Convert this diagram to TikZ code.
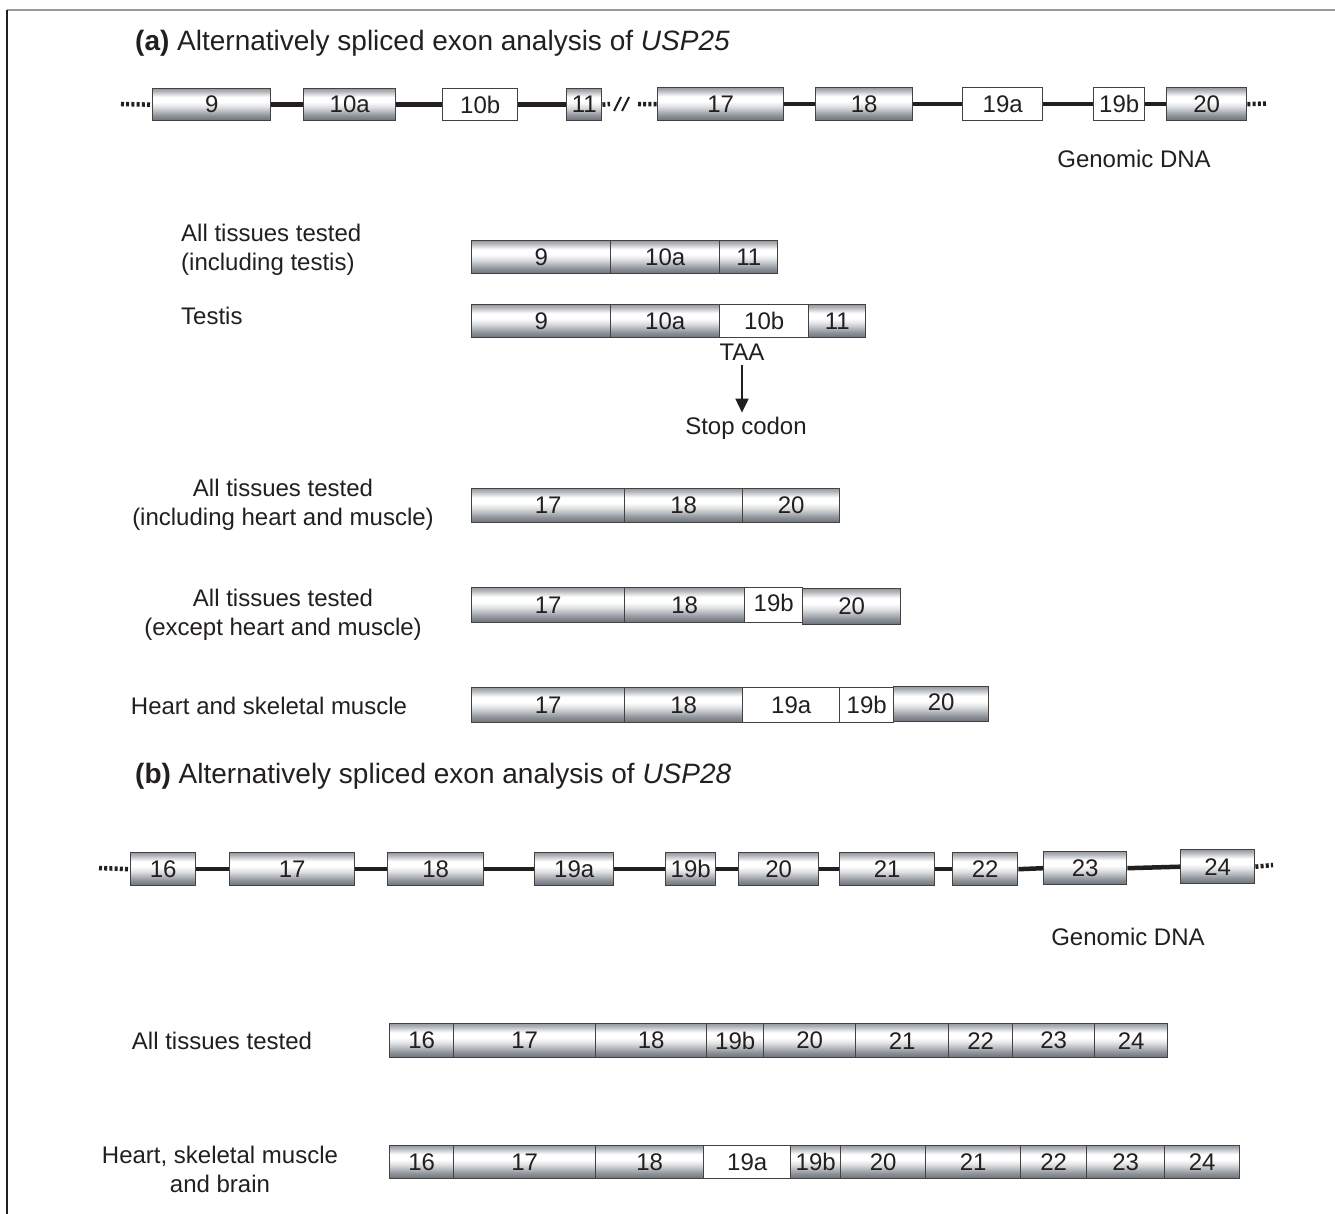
\documentclass[tikz,border=0pt]{standalone}
\usepackage{fontspec}
\setmainfont{Liberation Sans}
\usetikzlibrary{arrows.meta}
\definecolor{ink}{HTML}{231F20}
\definecolor{exbot}{HTML}{6A7078}
\definecolor{exlow}{HTML}{8E939A}
\definecolor{exmid}{HTML}{DCDEE1}
\definecolor{exhi}{HTML}{B2B6BB}
\definecolor{extop}{HTML}{979BA1}
\pgfdeclareverticalshading{exonsh}{100bp}{color(0bp)=(exbot); color(25bp)=(exbot); color(33bp)=(exlow); color(46bp)=(exmid); color(54bp)=(white); color(62bp)=(white); color(71bp)=(exhi); color(75bp)=(extop); color(100bp)=(extop)}
\newcommand{\exonbox}[7]{%
  \node[#1,anchor=north west,minimum width={(#4-#3)*1pt},minimum height={(#6-#5)*1pt}] (#2) at (#3,#5) {#7};}
\begin{document}
\begin{tikzpicture}[x=1pt,y=-1pt,
  every node/.style={text=ink,font=\fontsize{24}{29}\selectfont},
  exon/.style={draw=ink!85,line width=1.4pt,shading=exonsh,inner sep=0pt},
  wexon/.style={draw=ink!85,line width=1.4pt,fill=white,inner sep=0pt},
  intron/.style={draw=ink,line width=4.5pt},
  dotline/.style={draw=ink,line width=4.5pt,dash pattern=on 3pt off 2.2pt},
  titletext/.style={font=\fontsize{28}{32}\selectfont,anchor=west,inner sep=0pt},
  lbl/.style={align=center,inner sep=0pt},
  lbll/.style={align=left,anchor=west,inner sep=0pt}]
\useasboundingbox (0,0) rectangle (1335,1214);
\fill[white] (0,0) rectangle (1335,1214);
% frame
\draw[line width=1.5pt,draw=gray!80] (7,10) -- (1335,10);
\draw[line width=1.5pt,draw=ink] (7,10) -- (7,1214);

% ---------- (a) ----------
\node[titletext] (ta) at (135,43) {\textbf{(a)} Alternatively spliced exon analysis of \textit{USP25}};

\exonbox{exon}{a9}{152}{270}{88}{120}{9}
\exonbox{exon}{a10a}{303}{395}{88}{120}{10a}
\exonbox{wexon}{a10b}{442}{517}{88}{120}{10b}
\exonbox{exon}{a11}{566}{601}{88}{120}{\raisebox{-2pt}{11}}
\exonbox{exon}{a17}{657}{783}{87}{120}{17}
\exonbox{exon}{a18}{815}{912}{87}{120}{18}
\exonbox{wexon}{a19a}{962}{1042}{87}{120}{19a}
\exonbox{wexon}{a19b}{1093}{1144}{87}{120}{19b}
\exonbox{exon}{a20}{1166}{1246}{87}{120}{20}
\coordinate (aL) at (121,104);
\coordinate (aR) at (1266,103.5);
\draw[dotline] (aL) -- (a9.west);
\draw[intron] (a9.east) -- (a10a.west);
\draw[intron] (a10a.east) -- (a10b.west);
\draw[intron] (a10b.east) -- (a11.west);
\coordinate (brk1) at (610,104);
\coordinate (brk2) at (638,104);
\draw[dotline] (a11.east) -- (brk1);
\draw[dotline] (brk2) -- (a17.west);
\draw[ink,line width=2pt] (614,111) -- (621,97) (622,111) -- (629,97);
\draw[intron] (a17.east) -- (a18.west);
\draw[intron] (a18.east) -- (a19a.west);
\draw[intron] (a19a.east) -- (a19b.west);
\draw[intron] (a19b.east) -- (a20.west);
\draw[dotline] (a20.east) -- (aR);
\node (gdna1) at (1134,159) {Genomic DNA};

% row 1
\node[lbll] (l1) at (181,250) {All tissues tested\\(including testis)};
\exonbox{exon}{r1a}{471}{610}{240}{273}{9}
\exonbox{exon}{r1b}{610}{719}{240}{273}{10a}
\exonbox{exon}{r1c}{719}{777}{240}{273}{11}

% row 2
\node[lbll] (l2) at (181,316) {Testis};
\exonbox{exon}{r2a}{471}{610}{304}{337}{9}
\exonbox{exon}{r2b}{610}{719}{304}{337}{10a}
\exonbox{wexon}{r2c}{719}{808}{304}{337}{\raisebox{-5pt}{10b}}
\exonbox{exon}{r2d}{808}{865}{304}{337}{11}
\node[inner sep=0pt] (taa) at (742,352) {TAA};
\node[inner sep=0pt] (stop) at (746,428) {Stop codon};
\draw[ink,line width=2pt,shorten <=5pt,shorten >=4pt,-{Triangle[width=13pt,length=14pt]}] (taa.south) -- (taa.south |- stop.north);

% row 3
\node[lbl] (l3) at (283,505) {All tissues tested\\(including heart and muscle)};
\exonbox{exon}{r3a}{471}{624}{488}{522}{\raisebox{-4pt}{17}}
\exonbox{exon}{r3b}{624}{742}{488}{522}{\raisebox{-4pt}{18}}
\exonbox{exon}{r3c}{742}{839}{488}{522}{20}

% row 4
\node[lbl] (l4) at (283,615) {All tissues tested\\(except heart and muscle)};
\exonbox{exon}{r4a}{471}{624}{587}{622}{17}
\exonbox{exon}{r4b}{624}{744}{587}{622}{18}
\exonbox{wexon}{r4c}{744}{802}{587}{622}{\raisebox{4pt}{19b}}
\exonbox{exon}{r4d}{802}{900}{588}{624}{\raisebox{-3pt}{20}}

% row 5
\node[lbl] (l5) at (269,706) {Heart and skeletal muscle};
\exonbox{exon}{r5a}{471}{624}{687}{722}{\raisebox{-3pt}{17}}
\exonbox{exon}{r5b}{624}{742}{687}{722}{18}
\exonbox{wexon}{r5c}{742}{839}{687}{722}{19a}
\exonbox{wexon}{r5d}{839}{893}{687}{722}{19b}
\exonbox{exon}{r5e}{893}{988}{686}{721}{\raisebox{4pt}{20}}

% ---------- (b) ----------
\node[titletext] (tb) at (135,776) {\textbf{(b)} Alternatively spliced exon analysis of \textit{USP28}};

\exonbox{exon}{b16}{130}{195}{852}{885}{16}
\exonbox{exon}{b17}{229}{354}{852}{885}{17}
\exonbox{exon}{b18}{387}{483}{852}{885}{18}
\exonbox{exon}{b19a}{534}{613}{852}{885}{19a}
\exonbox{exon}{b19b}{665}{715}{852}{885}{19b}
\exonbox{exon}{b20}{738}{818}{852}{885}{20}
\exonbox{exon}{b21}{839}{934}{852}{885}{21}
\exonbox{exon}{b22}{952}{1017}{852}{885}{22}
\exonbox{exon}{b23}{1043}{1126}{851}{884}{23}
\exonbox{exon}{b24}{1180}{1254}{849}{883}{24}
\coordinate (bL) at (99,868);
\coordinate (bR) at (1273,865);
\draw[dotline] (bL) -- (b16.west);
\draw[intron] (b16.east) -- (b17.west);
\draw[intron] (b17.east) -- (b18.west);
\draw[intron] (b18.east) -- (b19a.west);
\draw[intron] (b19a.east) -- (b19b.west);
\draw[intron] (b19b.east) -- (b20.west);
\draw[intron] (b20.east) -- (b21.west);
\draw[intron] (b21.east) -- (b22.west);
\draw[intron] (b22.east) -- (b23.west);
\draw[intron] (b23.east) -- (b24.west);
\draw[dotline] (b24.east) -- (bR);
\node (gdna2) at (1128,937) {Genomic DNA};

% row b1
\node[lbl] (lb1) at (222,1041) {All tissues tested};
\exonbox{exon}{c16}{389}{453}{1023}{1057}{16}
\exonbox{exon}{c17}{453}{595}{1023}{1057}{\raisebox{-4pt}{17}}
\exonbox{exon}{c18}{595}{706}{1023}{1057}{\raisebox{-4pt}{18}}
\exonbox{exon}{c19b}{706}{763}{1023}{1057}{19b}
\exonbox{exon}{c20}{763}{855}{1023}{1057}{\raisebox{-4pt}{20}}
\exonbox{exon}{c21}{855}{948}{1023}{1057}{21}
\exonbox{exon}{c22}{948}{1012}{1023}{1057}{\raisebox{-4pt}{22}}
\exonbox{exon}{c23}{1012}{1094}{1023}{1057}{23}
\exonbox{exon}{c24}{1094}{1167}{1023}{1057}{24}

% row b2
\node[lbl] (lb2) at (220,1169) {Heart, skeletal muscle\\and brain};
\exonbox{exon}{d16}{389}{453}{1145}{1178}{16}
\exonbox{exon}{d17}{453}{595}{1145}{1178}{17}
\exonbox{exon}{d18}{595}{703}{1145}{1178}{18}
\exonbox{wexon}{d19a}{703}{790}{1145}{1178}{19a}
\exonbox{exon}{d19b}{790}{840}{1145}{1178}{19b}
\exonbox{exon}{d20}{840}{925}{1145}{1178}{\raisebox{-3pt}{20}}
\exonbox{exon}{d21}{925}{1020}{1145}{1178}{21}
\exonbox{exon}{d22}{1020}{1086}{1145}{1178}{\raisebox{-3pt}{22}}
\exonbox{exon}{d23}{1086}{1164}{1145}{1178}{23}
\exonbox{exon}{d24}{1164}{1239}{1145}{1178}{24}
\end{tikzpicture}
\end{document}
